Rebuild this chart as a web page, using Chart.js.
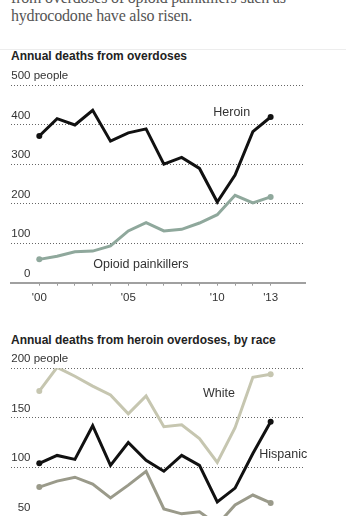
<!DOCTYPE html>
<html lang="en">
<head>
<meta charset="UTF-8">
<title>Annual deaths from overdoses</title>
<script src="https://cdn.jsdelivr.net/npm/chart.js"></script>
<style>
  html, body { margin: 0; padding: 0; background: #fff; width: 346px; height: 516px; overflow: hidden; }
  #intro { position: absolute; left: 11px; top: -10.7px; font: 16px/18px "Liberation Serif", serif; color: #555; letter-spacing: -0.2px; white-space: nowrap; }
  #rule { position: absolute; left: 0; top: 49px; width: 346px; height: 1px; background: #ededed; }
  .title { position: absolute; left: 11px; font: bold 12px/14px "Liberation Sans", Arial, sans-serif; color: #222; white-space: nowrap; }
  #title1 { top: 49.3px; }
  #title2 { top: 333.4px; }
  canvas { position: absolute; left: 0; }
  #chart1 { top: 62px; }
  #chart2 { top: 330px; }
</style>
</head>
<body>
<div id="intro">from overdoses of opioid painkillers such as<br>hydrocodone have also risen.</div>
<div id="rule"></div>
<div class="title" id="title1">Annual deaths from overdoses</div>
<canvas id="chart1" width="346" height="260"></canvas>
<div class="title" id="title2">Annual deaths from heroin overdoses, by race</div>
<canvas id="chart2" width="346" height="290"></canvas>

<script>
// data
const years = [2000, 2001, 2002, 2003, 2004, 2005, 2006, 2007, 2008, 2009, 2010, 2011, 2012, 2013];
const yearLabels = { 2000: "'00", 2005: "'05", 2010: "'10", 2013: "'13" };

const heroin = [371, 415, 399, 436, 358, 379, 389, 300, 317, 289, 204, 272, 382, 419];
const painkillers = [59, 67, 78, 80, 93, 131, 152, 131, 135, 151, 172, 221, 202, 217];

const white = [177, 201, 192, 182, 173, 154, 172, 141, 143, 129, 105, 140, 191, 194];
const hispanic = [104, 112, 108, 142, 102, 125, 107, 96, 112, 102, 65, 79, 114, 146];
const black = [80, 86, 90, 83, 69, 82, 96, 58, 53, 55, 42, 62, 72, 64];

const FONT = '"Liberation Sans", Arial, sans-serif';

// y labels sit above the gridlines, series names placed by data coords
const labelPlugin = {
  id: 'labels',
  afterDraw(chart, args, opts) {
    const { ctx, scales: { x, y } } = chart;
    ctx.save();
    ctx.font = '11.5px ' + FONT;
    ctx.fillStyle = '#333';
    ctx.textBaseline = 'middle';
    const topVal = y.ticks[y.ticks.length - 1].value;
    y.ticks.forEach(t => {
      const py = y.getPixelForValue(t.value) - 9;
      ctx.textAlign = 'right';
      ctx.fillText(String(t.value), x.left + 19.5, py);
      if (t.value === topVal) {
        ctx.textAlign = 'left';
        ctx.fillText(' people', x.left + 19.5, py);
      }
    });
    ctx.font = '12.5px ' + FONT;
    ctx.textAlign = 'center';
    opts.notes.forEach(n => {
      ctx.fillText(n.text, x.getPixelForValue(n.x), y.getPixelForValue(n.y));
    });
    ctx.restore();
  }
};

function line(data, color) {
  return {
    data: data.map((v, i) => ({ x: years[i], y: v })),
    borderColor: color,
    backgroundColor: color,
    borderWidth: 3,
    tension: 0,
    pointRadius: c => (c.dataIndex === 0 || c.dataIndex === data.length - 1) ? 3 : 0,
    pointBorderWidth: 0,
    pointHoverRadius: 0
  };
}

function makeOptions(yMax, step, padding, notes) {
  return {
    responsive: false,
    animation: false,
    events: [],
    layout: { padding: padding },
    plugins: { legend: { display: false }, tooltip: { enabled: false }, labels: { notes: notes } },
    scales: {
      x: {
        type: 'linear',
        min: 1998.41,
        max: 2014.93,
        afterBuildTicks: s => { s.ticks = years.map(v => ({ value: v })); },
        afterFit: s => { s.height = 30; },
        grid: { drawOnChartArea: false, drawTicks: true, tickLength: 3, color: '#999' },
        border: { display: true, color: '#a0a0a0', width: 2 },
        ticks: {
          autoSkip: false, maxRotation: 0, padding: 5, color: '#333',
          font: { family: FONT, size: 11.5 },
          callback: v => yearLabels[v] || ''
        }
      },
      y: {
        min: 0,
        max: yMax,
        afterFit: s => { s.width = 0; },
        ticks: { display: false, stepSize: step },
        grid: { drawTicks: false, color: c => c.tick && c.tick.value === 0 ? 'rgba(0,0,0,0)' : '#666', lineWidth: 1 },
        border: { display: false, dash: [1, 2] }
      }
    }
  };
}

new Chart(document.getElementById('chart1'), {
  type: 'line',
  data: { datasets: [line(heroin, '#111'), line(painkillers, '#8fa89c')] },
  options: makeOptions(500, 100, { left: 11, right: 41, top: 23, bottom: 9.3 }, [
    { text: 'Heroin', x: 2010.81, y: 431 },
    { text: 'Opioid painkillers', x: 2005.71, y: 45 }
  ]),
  plugins: [labelPlugin]
});

new Chart(document.getElementById('chart2'), {
  type: 'line',
  data: { datasets: [line(hispanic, '#111'), line(white, '#c6c6b0'), line(black, '#9a9a8a')] },
  options: makeOptions(200, 50, { left: 11, right: 41, top: 38.3, bottom: 23.7 }, [
    { text: 'White', x: 2010.1, y: 174 },
    { text: 'Hispanic', x: 2013.71, y: 113 }
  ]),
  plugins: [labelPlugin]
});
</script>
</body>
</html>
